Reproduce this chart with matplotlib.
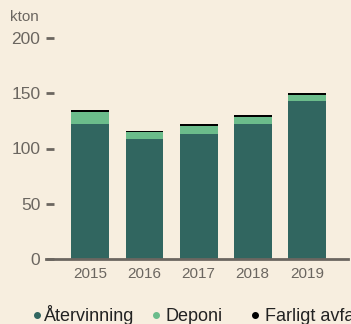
import numpy as np
import matplotlib.pyplot as plt
from matplotlib.lines import Line2D

YEARS = ["2015", "2016", "2017", "2018", "2019"]
ATERVINNING = [122, 108.5, 113, 122, 143]
DEPONI = [11, 6.5, 7, 6.5, 5.5]
FARLIGT = [2, 1, 2, 1.8, 1.8]
LEGEND_LABELS = ["Återvinning", "Deponi", "Farligt avfall"]

BG = "#f7eedf"
DARK = "#316660"
LIGHT = "#6bbc8b"
GREY = "#6b6660"

W, H = 351, 324

plt.rcParams["font.family"] = ["Liberation Sans", "DejaVu Sans"]


def plotWaste():
    fig = plt.figure(figsize=(W / 100, H / 100), dpi=100, facecolor=BG)
    ax = fig.add_axes([46 / W, 65 / H, 302 / W, 221 / H])
    ax.set_facecolor(BG)

    x = np.arange(len(YEARS))
    atv = np.array(ATERVINNING)
    dep = np.array(DEPONI)
    far = np.array(FARLIGT)
    w = 0.7
    ax.bar(x, atv, width=w, color=DARK, zorder=2)
    ax.bar(x, dep, width=w, bottom=atv, color=LIGHT, zorder=2)
    ax.bar(x, far, width=w, bottom=atv + dep, color="black", zorder=2)

    ax.set_xlim(-0.82, 4.76)
    ax.set_ylim(0, 200)
    ax.set_yticks([0, 50, 100, 150, 200])
    ax.set_xticks(x)
    ax.set_xticklabels(YEARS)

    for s in ["top", "right", "left"]:
        ax.spines[s].set_visible(False)
    ax.spines["bottom"].set_color(GREY)
    ax.spines["bottom"].set_linewidth(2)

    ax.tick_params(axis="y", direction="in", length=6, width=2, color=GREY,
                   labelsize=12.5, labelcolor=GREY, pad=4)
    ax.tick_params(axis="x", length=0, labelsize=11, labelcolor=GREY, pad=6)

    fig.text(10 / W, 1 - 17 / H, "kton", fontsize=11, color=GREY,
             va="center", ha="left")

    # legend row along the bottom, one dot + label per series
    dot_x = [37, 156, 255]
    text_x = [43.5, 165.5, 265]
    colors = [DARK, LIGHT, "black"]
    for dx, tx, c, lab in zip(dot_x, text_x, colors, LEGEND_LABELS):
        fig.add_artist(Line2D([dx / W], [1 - 315 / H], marker="o",
                              markersize=4, color=c, linestyle="",
                              transform=fig.transFigure))
        fig.text(tx / W, 1 - 321 / H, lab, fontsize=13, color="#222222",
                 va="baseline", ha="left")

    fig.savefig("out.png", facecolor=BG)


def main():
    plotWaste()


if __name__ == "__main__":
    main()
